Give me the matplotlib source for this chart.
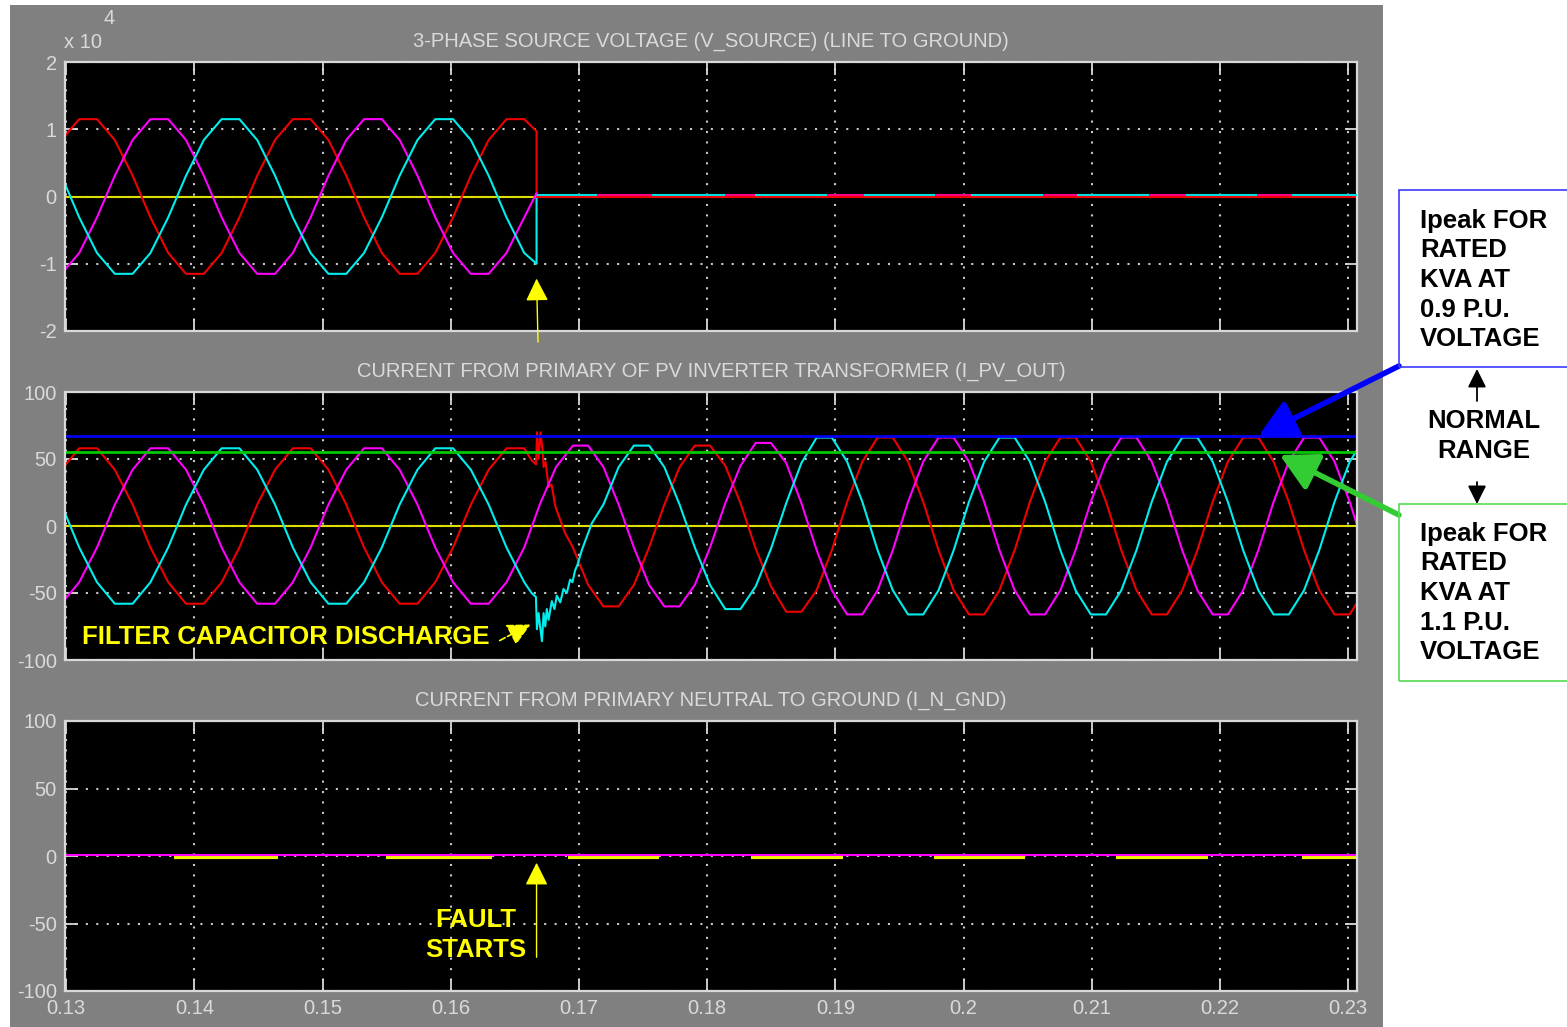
import numpy as np
import matplotlib.pyplot as plt
from matplotlib.patches import Rectangle, FancyArrowPatch

plt.rcParams['font.family'] = ['Liberation Sans', 'DejaVu Sans']

W, H = 1567, 1027

# sample grid (s): 30 deg steps at 60 Hz before the fault, ~70 Hz once islanded
t_pre = 0.12962 + np.arange(27) / 720.0
t_mid = np.array([0.16694, 0.16821])
t_post = 0.16953 + np.arange(53) * 0.0011883
t_all = np.concatenate([t_pre, t_mid, t_post])

T_FAULT = 0.16669
T_END = 0.2307

# V_SOURCE line to ground (V), phases a/b/c up to the fault
va_pre = [8400, 11500, 11500, 8400, 3100, -3100, -8400, -11500, -11500, -8400, -3100, 3100,
          8400, 11500, 11500, 8400, 3100, -3100, -8400, -11500, -11500, -8400, -3100, 3100,
          8400, 11500, 11500]
vb_pre = [-11500, -8400, -3100, 3100, 8400, 11500, 11500, 8400, 3100, -3100, -8400, -11500,
          -11500, -8400, -3100, 3100, 8400, 11500, 11500, 8400, 3100, -3100, -8400, -11500,
          -11500, -8400, -3100]
vc_pre = [3100, -3100, -8400, -11500, -11500, -8400, -3100, 3100, 8400, 11500, 11500, 8400,
          3100, -3100, -8400, -11500, -11500, -8400, -3100, 3100, 8400, 11500, 11500, 8400,
          3100, -3100, -8400]
v_at_fault = [9700, 500, -10000]

# collapsed source voltage: which trace shows on top along the zero line
v_zero_edges = [0.16669, 0.17144, 0.17572, 0.18140, 0.18374, 0.18934, 0.19222, 0.19775,
                0.20055, 0.20623, 0.20888, 0.21448, 0.21736, 0.22289, 0.22561, 0.2307]
v_zero_colors = ['#00e0e0', '#ff0080'] * 7 + ['#00e0e0']

# I_PV_OUT (A)
ia_pre = [42, 58, 58, 42, 16, -16, -42, -58, -58, -42, -16, 16,
          42, 58, 58, 42, 16, -16, -42, -58, -58, -42, -16, 16,
          42, 58, 58]
ia_tr_t = [0.16630, 0.16665, 0.16673, 0.16685, 0.16700, 0.16716, 0.16724, 0.16739,
           0.16763, 0.16786, 0.16817, 0.16856, 0.16895]
ia_tr_v = [49, 46, 70, 50, 70, 56, 44, 48, 29, 31, 14, 4, -6]
ia_post = [-16, -44, -60, -60, -44, -16, 16, 44, 60, 60,
           45, 17, -17, -45, -64, -64,
           -48, -18, 18, 48, 66, 66, 48, 18, -18, -48, -66, -66,
           -48, -18, 18, 48, 66, 66, 48, 18, -18, -48, -66, -66,
           -48, -18, 18, 48, 66, 66, 48, 18, -18, -48, -66, -66,
           -48]

ib_all = [-58, -42, -16, 16, 42, 58, 58, 42, 16, -16, -42, -58,
          -58, -42, -16, 16, 42, 58, 58, 42, 16, -16, -42, -58,
          -58, -42, -16,
          16, 44, 60, 60, 44, 16, -16, -44, -60, -60, -44, -16,
          17, 45, 62, 62, 47, 17,
          -18, -48, -66, -66, -48, -18, 18, 48, 66, 66, 48, 18,
          -18, -48, -66, -66, -48, -18, 18, 48, 66, 66, 48, 18,
          -18, -48, -66, -66, -48, -18, 18, 48, 66, 66, 48, 18,
          -18]

ic_pre = [16, -16, -42, -58, -58, -42, -16, 16, 42, 58, 58, 42,
          16, -16, -42, -58, -58, -42, -16, 16, 42, 58, 58, 42,
          16, -16, -42]
ic_tr_t = [0.16630, 0.16664, 0.16672, 0.16685, 0.16698, 0.16711, 0.16724, 0.16737,
           0.16749, 0.16763, 0.16788, 0.16809, 0.16827, 0.16854, 0.16879, 0.16905,
           0.16931, 0.16949, 0.16970, 0.16988, 0.17022, 0.17100]
ic_tr_v = [-50, -53, -77, -65, -76, -86, -65, -75, -62, -70, -56, -62,
           -52, -57, -47, -50, -40, -42, -33, -29, -18, 2]
ic_post = [16, 44, 60, 60, 44, 16, -16, -44,
           -62, -62, -45, -17, 17, 47,
           66, 66, 48, 18, -18, -48, -66, -66, -48, -18, 18, 48,
           66, 66, 48, 18, -18, -48, -66, -66, -48, -18, 18, 48,
           66, 66, 48, 18, -18, -48, -66, -66, -48, -18, 18, 48,
           66]

I_PEAK_09 = 67   # rated kVA at 0.9 p.u.
I_PEAK_11 = 55   # rated kVA at 1.1 p.u.

# I_N_GND: stretches where the second trace shows beside the zero line
ngnd_on = [0.13837, 0.15494, 0.16918, 0.18342, 0.19766, 0.21191, 0.22638]
ngnd_off = [0.14654, 0.16319, 0.17627, 0.19058, 0.20482, 0.21907, 0.2307]

xticks = [0.13, 0.14, 0.15, 0.16, 0.17, 0.18, 0.19, 0.20, 0.21, 0.22, 0.23]
xlabels = ['0.13', '0.14', '0.15', '0.16', '0.17', '0.18', '0.19', '0.2', '0.21', '0.22', '0.23']

titles = ['3-PHASE SOURCE VOLTAGE (V_SOURCE) (LINE TO GROUND)',
          'CURRENT FROM PRIMARY OF PV INVERTER TRANSFORMER (I_PV_OUT)',
          'CURRENT FROM PRIMARY NEUTRAL TO GROUND (I_N_GND)']

RED, MAG, CYN, YEL = '#f00000', '#ff00ff', '#00eeee', '#dede00'
FG = '#dadada'


def fxy(px, py):
    return px / W, 1 - py / H


fig = plt.figure(figsize=(W / 100, H / 100), dpi=100)
fig.add_artist(Rectangle(fxy(10, H), 1373 / W, 1022 / H, transform=fig.transFigure,
                         fc='#808080', ec='none', zorder=-10))

left, width = 65 / W, 1292 / W
ax_v = fig.add_axes([left, 1 - 331 / H, width, 269 / H])
ax_i = fig.add_axes([left, 1 - 660 / H, width, 268 / H])
ax_n = fig.add_axes([left, 1 - 991 / H, width, 270 / H])


def style(ax, title, yticks, ylabels, show_x):
    ax.set_facecolor('black')
    ax.set_xlim(0.1299, T_END)
    ax.set_xticks(xticks)
    ax.set_xticklabels(xlabels if show_x else [])
    ax.set_yticks(yticks)
    ax.set_yticklabels(ylabels)
    ax.set_ylim(yticks[0], yticks[-1])
    ax.grid(True, color='#c8c8c8', linestyle=(0, (1, 4)), lw=1.5)
    ax.tick_params(direction='in', length=9, width=1.3, colors=FG, top=True, right=True,
                   labelsize=14.5, pad=6)
    for s in ax.spines.values():
        s.set_color('#d8d8d8')
        s.set_linewidth(1.6)
    ax.set_title(title, color=FG, fontsize=14.5, pad=11)


style(ax_v, titles[0], [-2, -1, 0, 1, 2], ['-2', '-1', '0', '1', '2'], False)
style(ax_i, titles[1], [-100, -50, 0, 50, 100], ['-100', '-50', '0', '50', '100'], False)
style(ax_n, titles[2], [-100, -50, 0, 50, 100], ['-100', '-50', '0', '50', '100'], True)

# source voltage
lw = 1.5
ax_v.plot([0.1299, T_FAULT], [0, 0], color=YEL, lw=lw)
for pre, vf, c in [(va_pre, v_at_fault[0], RED), (vb_pre, v_at_fault[1], MAG),
                   (vc_pre, v_at_fault[2], CYN)]:
    tt = np.concatenate([t_pre, [T_FAULT, T_FAULT]])
    vv = np.concatenate([pre, [vf, 0]]) / 1e4
    ax_v.plot(tt, vv, color=c, lw=lw)
ax_v.plot([T_FAULT, T_END], [-0.01, -0.01], color=RED, lw=lw)
ax_v.hlines([0.015] * (len(v_zero_edges) - 1), v_zero_edges[:-1], v_zero_edges[1:],
            colors=v_zero_colors, lw=lw, zorder=3)
fig.text(64 / W, 1 - 42 / H, 'x 10', color=FG, fontsize=14.5, va='center')
fig.text(104 / W, 1 - 19 / H, '4', color=FG, fontsize=14.5, va='center')

# PV inverter current
ax_i.axhline(0, color=YEL, lw=lw)
ax_i.plot(np.concatenate([t_pre, ia_tr_t, t_post]),
          np.concatenate([ia_pre, ia_tr_v, ia_post]), color=RED, lw=lw)
ax_i.plot(t_all, ib_all, color=MAG, lw=lw)
ax_i.plot(np.concatenate([t_pre, ic_tr_t, t_post[2:]]),
          np.concatenate([ic_pre, ic_tr_v, ic_post]), color=CYN, lw=lw)
ax_i.axhline(I_PEAK_09, color='#0000f0', lw=2)
ax_i.axhline(I_PEAK_11, color='#00c800', lw=2)

# neutral current
ax_n.hlines([-0.9] * len(ngnd_on), ngnd_on, ngnd_off, colors='#f0f000', lw=3)
ax_n.axhline(0.4, color=MAG, lw=1.5)

# annotations
bold = dict(fontweight='bold', fontsize=18.5)
ax_i.text(0.13121, -82.5, 'FILTER CAPACITOR DISCHARGE', color='#ffff00', ha='left',
          va='center', **bold)
ax_i.annotate('', xy=(0.16622, -73.5), xytext=(0.16381, -85.5),
              arrowprops=dict(arrowstyle='-|>,head_length=0.7,head_width=0.35',
                              mutation_scale=20, color='#ffff00', lw=1.2, ls='--',
                              shrinkA=0, shrinkB=0))
ax_n.text(0.16195, -58.5, 'FAULT\nSTARTS', color='#ffff00', ha='center', va='center',
          linespacing=1.3, **bold)
ax_n.annotate('', xy=(T_FAULT, -5), xytext=(T_FAULT, -75),
              arrowprops=dict(arrowstyle='-|>,head_length=0.7,head_width=0.35',
                              mutation_scale=20, color='#ffff00', lw=1,
                              shrinkA=0, shrinkB=0))
ax_v.annotate('', xy=(T_FAULT, -1.22), xytext=fxy(538, 342), textcoords='figure fraction',
              annotation_clip=False,
              arrowprops=dict(arrowstyle='-|>,head_length=0.7,head_width=0.35',
                              mutation_scale=20, color='#ffff00', lw=1,
                              shrinkA=0, shrinkB=0, clip_on=False))

# rated-current callouts
ax_i.annotate('', xy=(0.2230, I_PEAK_09), xytext=fxy(1399, 366), textcoords='figure fraction',
              annotation_clip=False, zorder=10,
              arrowprops=dict(arrowstyle='-|>,head_length=0.75,head_width=0.4',
                              mutation_scale=30, color='#0000ff', lw=4,
                              shrinkA=0, shrinkB=0, clip_on=False))
ax_i.annotate('', xy=(0.22467, I_PEAK_11 - 2), xytext=fxy(1399, 515),
              textcoords='figure fraction', annotation_clip=False, zorder=10,
              arrowprops=dict(arrowstyle='-|>,head_length=0.75,head_width=0.4',
                              mutation_scale=30, color='#33cc33', lw=4,
                              shrinkA=0, shrinkB=0, clip_on=False))

fig.add_artist(Rectangle(fxy(1399, 367), 200 / W, 177 / H, transform=fig.transFigure,
                         fill=False, ec='#3b3bff', lw=1.2))
fig.add_artist(Rectangle(fxy(1399, 681), 200 / W, 177 / H, transform=fig.transFigure,
                         fill=False, ec='#55dd55', lw=1.2))
fig.text(1420 / W, 1 - 280 / H, 'Ipeak FOR\nRATED\nKVA AT\n0.9 P.U.\nVOLTAGE', ha='left',
         va='center', color='black', linespacing=1.3, **bold)
fig.text(1420 / W, 1 - 593 / H, 'Ipeak FOR\nRATED\nKVA AT\n1.1 P.U.\nVOLTAGE', ha='left',
         va='center', color='black', linespacing=1.3, **bold)
fig.text(1484 / W, 1 - 436 / H, 'NORMAL\nRANGE', ha='center', va='center', color='black',
         linespacing=1.3, **bold)
for a, b in [((1477, 401), (1477, 369)), ((1477, 482), (1477, 504))]:
    fig.add_artist(FancyArrowPatch(fxy(*a), fxy(*b), transform=fig.transFigure,
                                   arrowstyle='-|>,head_length=0.7,head_width=0.35',
                                   mutation_scale=16, color='black', lw=1.3,
                                   shrinkA=0, shrinkB=0))

fig.savefig('out.png', dpi=100, facecolor='white')
